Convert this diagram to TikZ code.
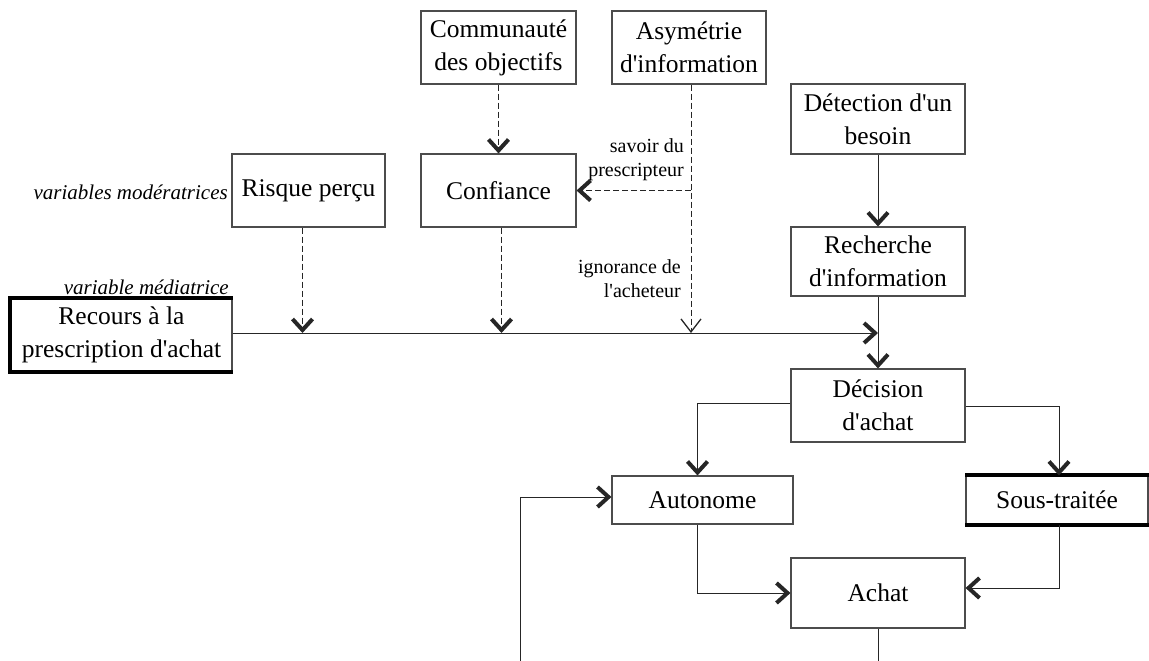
\documentclass[tikz,border=0pt]{standalone}
\usepackage{fontspec}
\setmainfont{Liberation Serif}[Ligatures=TeXOff]
\usetikzlibrary{arrows.meta,calc}
\begin{document}
\begin{tikzpicture}[x=1pt,y=-1pt,
  box/.style={draw=black!70,line width=1.1pt,inner sep=0pt,align=center,font=\fontsize{25.5}{33}\selectfont},
  conn/.style={line width=1pt,draw=black!85},
  dsh/.style={conn,dash pattern=on 6pt off 3pt},
  bold/.style={-{Straight Barb[length=11pt,width=20pt,line width=4pt]}},
  thinarr/.style={-{Straight Barb[length=13pt,width=20pt,line width=1.3pt]}},
  lbl/.style={inner sep=0pt,align=right,font=\fontsize{20}{24}\selectfont},
  ilbl/.style={inner sep=0pt,font=\fontsize{21}{22}\selectfont\itshape}]
\useasboundingbox (0,0) rectangle (1149,661);
% nodes
\node[box,minimum width=153pt,minimum height=73pt] (risque) at (308.5,190.5) {Risque perçu};
\node[box,minimum width=155pt,minimum height=73pt] (comm) at (498.5,47.5) {Communauté\\des objectifs};
\node[box,minimum width=154pt,minimum height=73pt] (asym) at (689,47.5) {Asymétrie\\d'information};
\node[box,minimum width=155pt,minimum height=73pt] (conf) at (498.5,190.5) {Confiance};
\node[box,minimum width=174pt,minimum height=70pt] (det) at (878,119) {Détection d'un\\besoin};
\node[box,minimum width=174pt,minimum height=69pt] (rech) at (878,261.5) {Recherche\\d'information};
\node[box,minimum width=221pt,minimum height=72pt] (recours) at (121.5,335) {Recours à la\\prescription d'achat};
\node[box,minimum width=174pt,minimum height=73pt] (dec) at (878,405.5) {Décision\\d'achat};
\node[box,minimum width=181pt,minimum height=48pt] (auto) at (702.5,500) {Autonome};
\node[box,minimum width=182pt,minimum height=48pt] (sous) at (1057,500) {Sous-traitée};
\node[box,minimum width=174pt,minimum height=70pt] (achat) at (878,593) {Achat};
% thick borders
\draw[line width=4pt,black] (recours.north east) -- (recours.north west) -- (recours.south west) -- (recours.south east);
\draw[line width=4pt,black] (sous.north west) -- (sous.north east);
\draw[line width=4pt,black] (sous.south west) -- (sous.south east);
% labels
\node[ilbl,anchor=east] (lmod) at (228,192) {variables modératrices};
\node[ilbl,anchor=east] (lmed) at (229,287) {variable médiatrice};
\node[lbl,anchor=east] (lsav) at (684,160) {savoir du\\prescripteur};
\node[lbl,anchor=east] (lign) at (681,279) {ignorance de\\l'acheteur};
% coordinates
\coordinate (ml) at ($(recours.east)+(0,-2)$);
\coordinate (mlend) at (ml -| rech.south);
\coordinate (bot1) at (achat.south |- 0,661);
\coordinate (loop) at (520,661);
\coordinate (decL) at ($(dec.west)+(0,-2.5)$);
\coordinate (decR) at ($(dec.east)+(0,0.5)$);
\coordinate (autoN) at ($(auto.north)+(-5,0)$);
\coordinate (sousN) at ($(sous.north)+(2,0)$);
\coordinate (asymS) at ($(asym.south)+(2,0)$);
% main line
\draw[conn,bold] (ml) -- (mlend);
% dashed influences
\draw[dsh,bold] (comm.south) -- (conf.north);
\draw[dsh,bold] ($(risque.south)+(-6,0)$) -- ($(ml -| risque.south)+(-6,0)$);
\draw[dsh,bold] ($(conf.south)+(3,0)$) -- ($(ml -| conf.south)+(3,0)$);
\draw[dsh,thinarr] (asymS) -- (asymS |- ml);
\draw[dsh,bold] (asymS |- conf.east) -- (conf.east);
% process chain
\draw[conn,bold] (det.south) -- (rech.north);
\draw[conn,bold] (rech.south) -- (dec.north);
\draw[conn,bold] (decL) -| (autoN);
\draw[conn,bold] (decR) -| (sousN);
\draw[conn,bold] (auto.south -| autoN) |- (achat.west);
\draw[conn,bold] (sous.south -| sousN) |- ($(achat.east)+(0,-5)$);
\draw[conn] (achat.south) -- (bot1);
\draw[conn,bold] (loop) |- ($(auto.west)+(0,-3)$);
\end{tikzpicture}
\end{document}
